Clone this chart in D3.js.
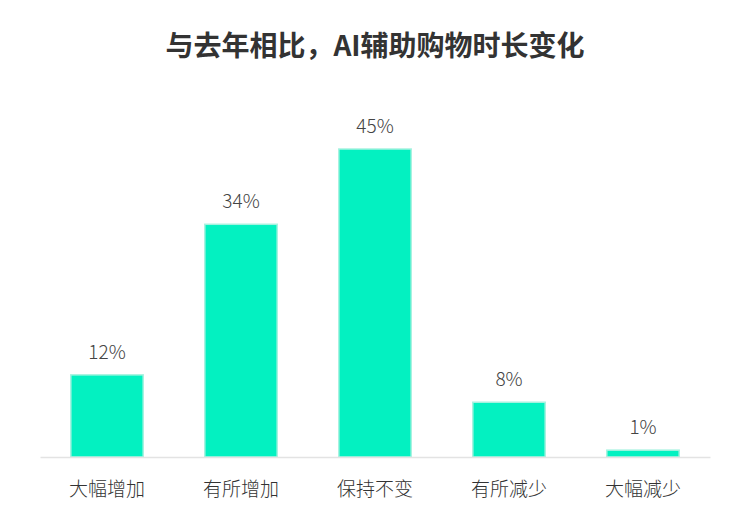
<!DOCTYPE html>
<html>
<head>
<meta charset="utf-8">
<script src="https://cdn.jsdelivr.net/npm/d3@7"></script>
<style>
  body { margin: 0; background: #fff; }
  text { font-family: "Noto Sans CJK SC", "Noto Sans", sans-serif; }
</style>
</head>
<body>
<div id="chart"></div>
<script>
// 데이터
var categories = ["大幅增加", "有所增加", "保持不变", "有所减少", "大幅减少"];
var values = [12, 34, 45, 8, 1];
var valueLabels = ["12%", "34%", "45%", "8%", "1%"];
var title = "与去年相比，AI辅助购物时长变化";

var data = categories.map(function(c, i) { return { cat: c, value: values[i], label: valueLabels[i] }; });

var width = 750, height = 519;
var svg = d3.select("#chart").append("svg")
    .attr("width", width)
    .attr("height", height);

// scale
var x = d3.scaleBand().domain(categories).range([40, 710]).paddingInner(0.46).paddingOuter(0.23);
var y = d3.scaleLinear().domain([0, 45]).range([457, 149]);

// 제목
svg.append("text")
    .attr("x", 375)
    .attr("y", 56)
    .attr("text-anchor", "middle")
    .style("font-size", "28px")
    .style("font-weight", "bold")
    .style("fill", "#333")
    .text(title);

// 막대
svg.selectAll("rect.bar")
    .data(data)
    .enter()
    .append("rect")
    .attr("class", "bar")
    .attr("x", function(d) { return x(d.cat); })
    .attr("y", function(d) { return y(d.value); })
    .attr("width", x.bandwidth())
    .attr("height", function(d) { return y(0) - y(d.value); })
    .style("fill", "#03f1c1")
    .style("stroke", "#a6f2df")
    .style("stroke-width", 1.5);

// 값 라벨
svg.selectAll("text.val")
    .data(data)
    .enter()
    .append("text")
    .attr("class", "val")
    .attr("x", function(d) { return x(d.cat) + x.bandwidth() / 2; })
    .attr("y", function(d) { return y(d.value) - 16; })
    .attr("text-anchor", "middle")
    .style("font-size", "19px")
    .style("font-weight", 300)
    .style("fill", "#444")
    .text(function(d) { return d.label; });

// x축
var xAxis = d3.axisBottom(x).tickSize(0).tickPadding(26);
var gx = svg.append("g")
    .attr("transform", "translate(0," + y(0) + ")")
    .call(xAxis);
gx.select(".domain").attr("stroke", "#e3e3e3").attr("stroke-width", 1.5);
gx.selectAll(".tick text")
    .style("font-size", "19px")
    .style("font-weight", 300)
    .style("fill", "#333")
    .style("font-family", "'Noto Sans CJK SC', sans-serif");
</script>
</body>
</html>
